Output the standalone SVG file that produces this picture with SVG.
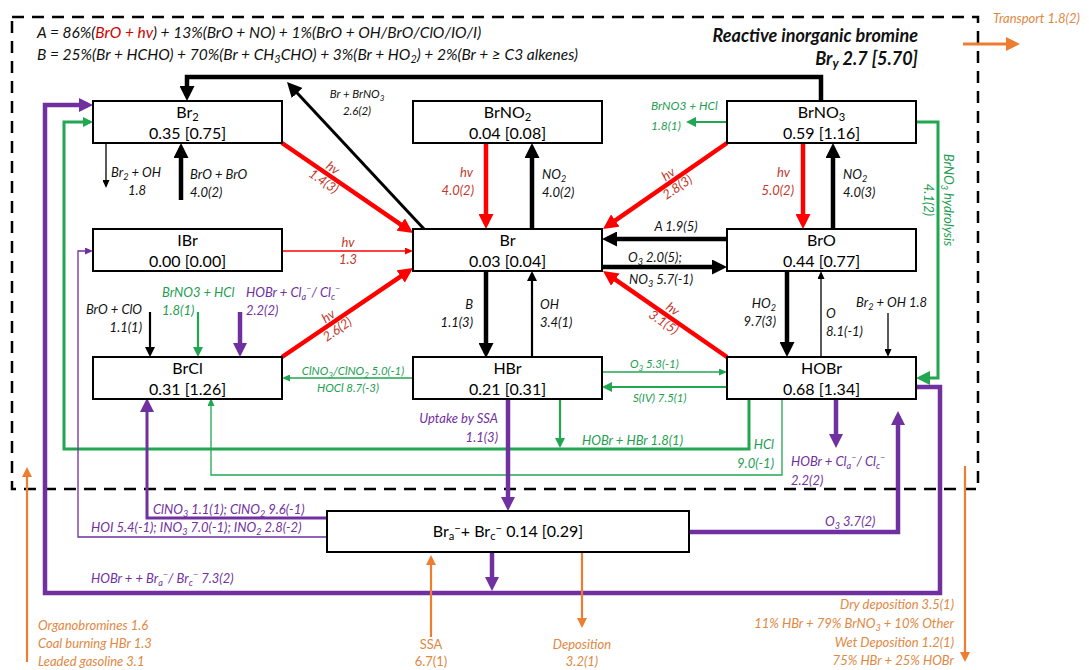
<svg xmlns="http://www.w3.org/2000/svg" width="1089" height="670" viewBox="0 0 1089 670">
<style>
.box{fill:#fff;stroke:#000;stroke-width:2}
.nt{font-family:Lato,"Open Sans",sans-serif;font-size:16px;text-anchor:middle;fill:#000}
.l{font-family:Lato,"Open Sans",sans-serif;font-style:italic;font-size:13px;fill:#111}
.r{fill:#C0392B}.g{fill:#1E9E50}.p{fill:#7030A0}.o{fill:#E0883F}
.e{text-anchor:end}.m{text-anchor:middle}
.sb{baseline-shift:-3px;font-size:70%}
.sp{baseline-shift:5px;font-size:70%}
.k{fill:none;stroke:#000}
.rd{fill:none;stroke:#FF0000}
.gn{fill:none;stroke:#22A652}
.pu{fill:none;stroke:#7030A0}
.or{fill:none;stroke:#ED7D31}
.w4{stroke-width:4.5}.w3{stroke-width:3}.w2{stroke-width:2.2}.w1{stroke-width:1.3}
</style>
<defs>
<marker id="kL" markerUnits="userSpaceOnUse" markerWidth="15" markerHeight="15" refX="10" refY="7.5" orient="auto"><path d="M0,0 L15,7.5 L0,15 z" fill="#000"/></marker>
<marker id="kM" markerUnits="userSpaceOnUse" markerWidth="10" markerHeight="10" refX="7" refY="5" orient="auto"><path d="M0,0 L10,5 L0,10 z" fill="#000"/></marker>
<marker id="kS" markerUnits="userSpaceOnUse" markerWidth="8" markerHeight="7" refX="6" refY="3.5" orient="auto"><path d="M0,0 L8,3.5 L0,7 z" fill="#000"/></marker>
<marker id="rL" markerUnits="userSpaceOnUse" markerWidth="15" markerHeight="15" refX="10" refY="7.5" orient="auto"><path d="M0,0 L15,7.5 L0,15 z" fill="#FF0000"/></marker>
<marker id="rS" markerUnits="userSpaceOnUse" markerWidth="8" markerHeight="7" refX="6" refY="3.5" orient="auto"><path d="M0,0 L8,3.5 L0,7 z" fill="#FF0000"/></marker>
<marker id="gL" markerUnits="userSpaceOnUse" markerWidth="14" markerHeight="14" refX="9" refY="7" orient="auto"><path d="M0,0 L14,7 L0,14 z" fill="#22A652"/></marker>
<marker id="gM" markerUnits="userSpaceOnUse" markerWidth="10" markerHeight="10" refX="7" refY="5" orient="auto"><path d="M0,0 L10,5 L0,10 z" fill="#22A652"/></marker>
<marker id="gS" markerUnits="userSpaceOnUse" markerWidth="8" markerHeight="7" refX="6" refY="3.5" orient="auto"><path d="M0,0 L8,3.5 L0,7 z" fill="#22A652"/></marker>
<marker id="pL" markerUnits="userSpaceOnUse" markerWidth="14" markerHeight="14" refX="9" refY="7" orient="auto"><path d="M0,0 L14,7 L0,14 z" fill="#7030A0"/></marker>
<marker id="pS" markerUnits="userSpaceOnUse" markerWidth="8" markerHeight="7" refX="6" refY="3.5" orient="auto"><path d="M0,0 L8,3.5 L0,7 z" fill="#7030A0"/></marker>
<marker id="oM" markerUnits="userSpaceOnUse" markerWidth="10" markerHeight="10" refX="7" refY="5" orient="auto"><path d="M0,0 L10,5 L0,10 z" fill="#ED7D31"/></marker>
<marker id="oL" markerUnits="userSpaceOnUse" markerWidth="14" markerHeight="14" refX="9" refY="7" orient="auto"><path d="M0,0 L14,7 L0,14 z" fill="#ED7D31"/></marker>
</defs>
<rect width="1089" height="670" fill="#fff"/>
<rect x="12" y="17" width="966" height="472" fill="none" stroke="#000" stroke-width="2.5" stroke-dasharray="12 8"/>

<g id="header">
<text class="l" x="37" y="38" style="font-size:15.5px">A = 86%(<tspan fill="#D00000">BrO + hv</tspan>) + 13%(BrO + NO) + 1%(BrO + OH/BrO/ClO/IO/I)</text>
<text class="l" x="37" y="60" style="font-size:15.5px">B = 25%(Br + HCHO) + 70%(Br + CH<tspan class="sb">3</tspan>CHO) + 3%(Br + HO<tspan class="sb">2</tspan>) + 2%(Br + ≥ C3 alkenes)</text>
<text class="l e" x="918" y="42" style="font-size:18px;font-weight:bold">Reactive inorganic bromine</text>
<text class="l e" x="918" y="65" style="font-size:18px;font-weight:bold">Br<tspan class="sb">y</tspan> 2.7 [5.70]</text>
</g>

<g id="connectors">
<path class="k w4" d="M821,101 V77 H187 V96" marker-end="url(#kL)"/>
<line class="k w3" x1="424" y1="229" x2="290.4" y2="85.7" marker-end="url(#kL)"/>
<line class="rd w4" x1="282" y1="143" x2="408.9" y2="230.2" marker-end="url(#rL)"/>
<line class="k w1" x1="106" y1="143" x2="106" y2="186" marker-end="url(#kS)"/>
<line class="k w4" x1="181" y1="200" x2="181" y2="148" marker-end="url(#kL)"/>
<line class="rd w4" x1="486" y1="143" x2="486" y2="224" marker-end="url(#rL)"/>
<line class="k w4" x1="532" y1="229" x2="532" y2="148" marker-end="url(#kL)"/>
<line class="gn w2" x1="727" y1="122" x2="689" y2="122" marker-end="url(#gM)"/>
<line class="rd w4" x1="727" y1="143" x2="607.1" y2="226.2" marker-end="url(#rL)"/>
<line class="rd w4" x1="803" y1="143" x2="803" y2="224" marker-end="url(#rL)"/>
<line class="k w4" x1="833" y1="229" x2="833" y2="148" marker-end="url(#kL)"/>
<path class="gn w3" d="M916,122 H938 V378 H921" marker-end="url(#gL)"/>
<line class="k w4" x1="727" y1="239" x2="607" y2="239" marker-end="url(#kL)"/>
<line class="k w4" x1="602" y1="267" x2="722" y2="267" marker-end="url(#kL)"/>
<line class="rd w4" x1="727" y1="357" x2="607.1" y2="273.9" marker-end="url(#rL)"/>
<line class="k w4" x1="787" y1="271" x2="787" y2="352" marker-end="url(#kL)"/>
<line class="k w1" x1="821" y1="357" x2="821" y2="273" marker-end="url(#kS)"/>
<line class="k w1" x1="888" y1="313" x2="888" y2="355" marker-end="url(#kS)"/>
<line class="k w4" x1="486" y1="271" x2="486" y2="353" marker-end="url(#kL)"/>
<line class="k w2" x1="532" y1="357" x2="532" y2="274" marker-end="url(#kM)"/>
<line class="rd w1" x1="282" y1="251" x2="411" y2="251" marker-end="url(#rS)"/>
<line class="rd w4" x1="282" y1="357" x2="408.9" y2="270.8" marker-end="url(#rL)"/>
<line class="k w2" x1="150" y1="312" x2="150" y2="354" marker-end="url(#kM)"/>
<line class="gn w2" x1="198" y1="312" x2="198" y2="354" marker-end="url(#gM)"/>
<line class="pu w4" x1="240" y1="312" x2="240" y2="352" marker-end="url(#pL)"/>
<line class="gn w1" x1="413" y1="378" x2="284" y2="378" marker-end="url(#gS)"/>
<line class="gn w1" x1="602" y1="372" x2="725" y2="372" marker-end="url(#gS)"/>
<line class="gn w2" x1="727" y1="387" x2="605" y2="387" marker-end="url(#gM)"/>
<path class="gn w3" d="M749,399 V449 H64 V122 H90" marker-end="url(#gM)"/>
<line class="gn w2" x1="560" y1="399" x2="560" y2="445" marker-end="url(#gM)"/>
<path class="gn w1" d="M782,399 V475 H211 V400" marker-end="url(#gS)"/>
<line class="pu w4" x1="836" y1="399" x2="836" y2="443" marker-end="url(#pL)"/>
<path class="pu w4" d="M689,532 H898 V416" marker-end="url(#pL)"/>
<path class="pu w4" d="M916,387 H940 V593 H45 V105 H88" marker-end="url(#pL)"/>
<line class="pu w4" x1="492" y1="553" x2="492" y2="586" marker-end="url(#pL)"/>
<path class="pu w3" d="M327,518 H147 V403" marker-end="url(#pL)"/>
<path class="pu w1" d="M327,537 H78 V251 H91" marker-end="url(#pS)"/>
<path class="pu w4" d="M508,399 V506" marker-end="url(#pL)"/>
<line class="or w2" x1="27" y1="662" x2="27" y2="470" marker-end="url(#oM)"/>
<line class="or w2" x1="431" y1="637" x2="431" y2="558" marker-end="url(#oM)"/>
<line class="or w2" x1="582" y1="553" x2="582" y2="625" marker-end="url(#oM)"/>
<line class="or w2" x1="965" y1="466" x2="965" y2="659" marker-end="url(#oM)"/>
<line class="or w3" x1="963" y1="44" x2="1015" y2="44" marker-end="url(#oL)"/>
</g>

<g id="labels">
<text class="l m" x="357" y="98" style="font-size:11.5px">Br + BrNO<tspan class="sb">3</tspan></text>
<text class="l m" x="357" y="115" style="font-size:11.5px">2.6(2)</text>
<g transform="translate(328,175) rotate(34.5)"><text class="l r m" x="0" y="-4">hv</text><text class="l r m" x="0" y="12">1.4(3)</text></g>
<text class="l" x="111" y="177">Br<tspan class="sb">2</tspan> + OH</text>
<text class="l m" x="137" y="195">1.8</text>
<text class="l" x="190" y="179">BrO + BrO</text>
<text class="l" x="190" y="197">4.0(2)</text>
<text class="l r e" x="473" y="177">hv</text>
<text class="l r e" x="474" y="195">4.0(2)</text>
<text class="l" x="542" y="179">NO<tspan class="sb">2</tspan></text>
<text class="l" x="542" y="197">4.0(2)</text>
<text class="l g" x="651" y="110" style="font-size:12px">BrNO3 + HCl</text>
<text class="l g" x="651" y="130" style="font-size:12px">1.8(1)</text>
<g transform="translate(673,181) rotate(-34.7)"><text class="l r m" x="0" y="-4">hv</text><text class="l r m" x="0" y="12">2.8(3)</text></g>
<text class="l r e" x="790" y="177">hv</text>
<text class="l r e" x="794" y="195">5.0(2)</text>
<text class="l" x="843" y="179">NO<tspan class="sb">2</tspan></text>
<text class="l" x="843" y="197">4.0(3)</text>
<text class="l g m" transform="translate(944,200) rotate(90)">BrNO<tspan class="sb">3</tspan> hydrolysis</text>
<text class="l g m" transform="translate(924,200) rotate(90)">4.1(2)</text>
<text class="l m" x="676" y="231">A 1.9(5)</text>
<text class="l" x="628" y="262">O<tspan class="sb">3</tspan> 2.0(5);</text>
<text class="l" x="629" y="284">NO<tspan class="sb">3</tspan> 5.7(-1)</text>
<g transform="translate(668,316) rotate(34.6)"><text class="l r m" x="0" y="-4">hv</text><text class="l r m" x="0" y="12">3.1(5)</text></g>
<text class="l e" x="776" y="308">HO<tspan class="sb">2</tspan></text>
<text class="l e" x="776" y="326">9.7(3)</text>
<text class="l" x="826" y="318">O</text>
<text class="l" x="826" y="336">8.1(-1)</text>
<text class="l" x="856" y="307">Br<tspan class="sb">2</tspan> + OH 1.8</text>
<text class="l e" x="473" y="309">B</text>
<text class="l e" x="473" y="327">1.1(3)</text>
<text class="l" x="540" y="309">OH</text>
<text class="l" x="540" y="327">3.4(1)</text>
<text class="l r m" x="348" y="247">hv</text>
<text class="l r m" x="348" y="264">1.3</text>
<g transform="translate(333,323) rotate(-34.5)"><text class="l r m" x="0" y="-4">hv</text><text class="l r m" x="0" y="12">2.6(2)</text></g>
<text class="l e" x="142" y="314">BrO + ClO</text>
<text class="l e" x="142" y="332">1.1(1)</text>
<text class="l g" x="162" y="297">BrNO3 + HCl</text>
<text class="l g" x="162" y="315">1.8(1)</text>
<text class="l p" x="246" y="297">HOBr + Cl<tspan class="sb">a</tspan><tspan class="sp">−</tspan>/ Cl<tspan class="sb">c</tspan><tspan class="sp">−</tspan></text>
<text class="l p" x="246" y="315">2.2(2)</text>
<text class="l g m" x="353" y="375" style="font-size:11.5px">ClNO<tspan class="sb">3</tspan>/ClNO<tspan class="sb">2</tspan> 5.0(-1)</text>
<text class="l g m" x="348" y="392" style="font-size:11.5px">HOCl 8.7(-3)</text>
<text class="l g" x="630" y="368" style="font-size:11.5px">O<tspan class="sb">3</tspan> 5.3(-1)</text>
<text class="l g" x="633" y="402" style="font-size:11.5px">S(IV) 7.5(1)</text>
<text class="l p e" x="498" y="423">Uptake by SSA</text>
<text class="l p e" x="498" y="442">1.1(3)</text>
<text class="l g" x="582" y="445">HOBr + HBr 1.8(1)</text>
<text class="l g e" x="774" y="449">HCl</text>
<text class="l g e" x="774" y="468">9.0(-1)</text>
<text class="l p" x="791" y="466">HOBr + Cl<tspan class="sb">a</tspan><tspan class="sp">−</tspan>/ Cl<tspan class="sb">c</tspan><tspan class="sp">−</tspan></text>
<text class="l p" x="791" y="485">2.2(2)</text>
<text class="l p" x="825" y="526">O<tspan class="sb">3</tspan> 3.7(2)</text>
<text class="l p" x="153" y="514">ClNO<tspan class="sb">3</tspan> 1.1(1); ClNO<tspan class="sb">2</tspan> 9.6(-1)</text>
<text class="l p" x="91" y="532">HOI 5.4(-1); INO<tspan class="sb">3</tspan> 7.0(-1); INO<tspan class="sb">2</tspan> 2.8(-2)</text>
<text class="l p" x="91" y="583">HOBr + + Br<tspan class="sb">a</tspan><tspan class="sp">−</tspan>/ Br<tspan class="sb">c</tspan><tspan class="sp">−</tspan>  7.3(2)</text>
<text class="l o" x="38" y="630">Organobromines 1.6</text>
<text class="l o" x="38" y="648">Coal burning HBr 1.3</text>
<text class="l o" x="38" y="666">Leaded gasoline 3.1</text>
<text class="l o m" x="431" y="649" style="font-style:normal">SSA</text>
<text class="l o m" x="431" y="666" style="font-style:normal">6.7(1)</text>
<text class="l o m" x="582" y="649">Deposition</text>
<text class="l o m" x="582" y="666">3.2(1)</text>
<text class="l o e" x="954" y="609">Dry deposition 3.5(1)</text>
<text class="l o e" x="954" y="628">11% HBr + 79% BrNO<tspan class="sb">3</tspan> + 10% Other</text>
<text class="l o e" x="954" y="647">Wet Deposition 1.2(1)</text>
<text class="l o e" x="954" y="665">75% HBr + 25% HOBr</text>
<text class="l o" x="993" y="23">Transport 1.8(2)</text>
</g>

<g id="node-Br2"><rect class="box" x="93" y="101" width="189" height="42"/><text class="nt" x="187.5" y="118">Br<tspan class="sb">2</tspan></text><text class="nt" x="187.5" y="139">0.35 [0.75]</text></g>
<g id="node-BrNO2"><rect class="box" x="413" y="101" width="189" height="42"/><text class="nt" x="507.5" y="118">BrNO<tspan class="sb">2</tspan></text><text class="nt" x="507.5" y="139">0.04 [0.08]</text></g>
<g id="node-BrNO3"><rect class="box" x="727" y="101" width="189" height="42"/><text class="nt" x="821.5" y="118">BrNO<tspan class="sb">3</tspan></text><text class="nt" x="821.5" y="139">0.59 [1.16]</text></g>
<g id="node-IBr"><rect class="box" x="93" y="229" width="189" height="42"/><text class="nt" x="187.5" y="246">IBr</text><text class="nt" x="187.5" y="267">0.00 [0.00]</text></g>
<g id="node-Br"><rect class="box" x="413" y="229" width="189" height="42"/><text class="nt" x="507.5" y="246">Br</text><text class="nt" x="507.5" y="267">0.03 [0.04]</text></g>
<g id="node-BrO"><rect class="box" x="727" y="229" width="189" height="42"/><text class="nt" x="821.5" y="246">BrO</text><text class="nt" x="821.5" y="267">0.44 [0.77]</text></g>
<g id="node-BrCl"><rect class="box" x="93" y="357" width="189" height="42"/><text class="nt" x="187.5" y="374">BrCl</text><text class="nt" x="187.5" y="395">0.31 [1.26]</text></g>
<g id="node-HBr"><rect class="box" x="413" y="357" width="189" height="42"/><text class="nt" x="507.5" y="374">HBr</text><text class="nt" x="507.5" y="395">0.21 [0.31]</text></g>
<g id="node-HOBr"><rect class="box" x="727" y="357" width="189" height="42"/><text class="nt" x="821.5" y="374">HOBr</text><text class="nt" x="821.5" y="395">0.68 [1.34]</text></g>
<g id="node-Bra"><rect class="box" x="327" y="511" width="362" height="41"/><text class="nt" x="508" y="537">Br<tspan class="sb">a</tspan><tspan class="sp">−</tspan>+ Br<tspan class="sb">c</tspan><tspan class="sp">−</tspan> 0.14 [0.29]</text></g>
</svg>
